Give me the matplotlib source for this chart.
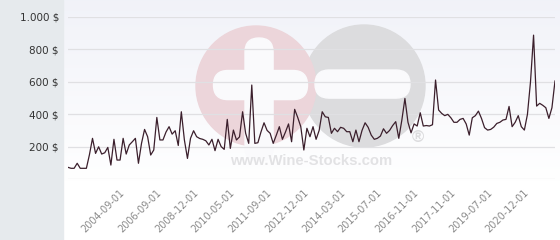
import numpy as np
import matplotlib
matplotlib.use("Agg")
import matplotlib.pyplot as plt
from matplotlib.patches import Circle, FancyBboxPatch, Rectangle

# monthly prices (160 points)
prices = [
    72, 66, 66, 97, 66, 66, 66, 150, 251, 158,
    199, 154, 162, 195, 86, 245, 117, 117, 251, 154,
    210, 230, 251, 97, 220, 306, 261, 148, 179, 380,
    241, 241, 290, 323, 277, 298, 207, 415, 241, 127,
    251, 298, 261, 250, 245, 236, 210, 245, 175, 245,
    200, 183, 368, 189, 302, 241, 260, 415, 282, 220,
    580, 220, 224, 290, 347, 300, 282, 220, 270, 323,
    245, 290, 340, 230, 430, 380, 323, 179, 313, 261,
    323, 245, 300, 415, 384, 380, 282, 313, 292, 319,
    313, 292, 292, 230, 302, 230, 300, 347, 319, 271,
    245, 251, 265, 310, 282, 300, 330, 354, 251, 364,
    497, 350, 285, 340, 327, 409, 327, 330, 327, 335,
    611, 426, 405, 391, 399, 378, 350, 350, 368, 374,
    340, 271, 378, 391, 419, 374, 317, 302, 306, 320,
    343, 350, 364, 368, 448, 323, 350, 391, 323, 302,
    399, 600, 888, 450, 467, 455, 440, 374, 440, 605,
]

tick_labels = ['2004-09-01', '2006-09-01', '2008-12-01', '2010-05-01',
               '2011-09-01', '2012-12-01', '2014-03-01', '2015-07-01',
               '2016-11-01', '2017-11-01', '2019-07-01', '2020-12-01']
first_tick = 18
tick_step = 12

y_ticks = [0, 200, 400, 600, 800, 1000]
y_labels = ['', '200 $', '400 $', '600 $', '800 $', '1.000 $']

W, H = 560, 240
fig = plt.figure(figsize=(W / 100, H / 100), dpi=100)

# background layer in pixel coordinates
bg = fig.add_axes([0, 0, 1, 1], zorder=0)
bg.set_xlim(0, W)
bg.set_ylim(H, 0)
bg.axis('off')

grad = np.linspace(0, 1, 200).reshape(-1, 1)
top = np.array([0.945, 0.95, 0.975])
bot = np.array([1.0, 1.0, 1.0])
img = top + (bot - top) * np.clip(grad * 1.1, 0, 1)[:, :, None]
img = np.repeat(img, 2, axis=1)
bg.imshow(img, extent=[63, W, 200, 0], aspect='auto', zorder=0)
bg.add_patch(Rectangle((200, 200), W, 40, color='white', zorder=0))
bg.add_patch(Rectangle((0, 0), 63, H, color='#e6eaed', zorder=1))

# watermark logo
bg.add_patch(Circle((364, 86), 61, color='#dcdcde', zorder=2))
bg.add_patch(Circle((256, 86), 60, color='#ecd5da', zorder=3))
bg.add_patch(FancyBboxPatch((259, 52), 0.1, 95, boxstyle='round,pad=14',
                            color='#fafafc', zorder=4))
bg.add_patch(FancyBboxPatch((228, 85), 65, 0.1, boxstyle='round,pad=14.5',
                            color='#fafafc', zorder=4))
bg.add_patch(FancyBboxPatch((329, 84), 67, 0.1, boxstyle='round,pad=14',
                            color='#fafafc', zorder=4))
bg.text(311, 161, 'www.Wine-Stocks.com', fontsize=10.7, fontweight='bold',
        family='Liberation Sans', color='#e2e2e4', ha='center', va='center',
        zorder=5)
bg.text(418, 138, '®', fontsize=12, fontweight='bold', family='Liberation Sans',
        color='#dcdcde', ha='center', va='center', zorder=5)

# main chart
ax = fig.add_axes([68 / W, 1 - 179 / H, 487 / W, 162 / H], zorder=1)
ax.patch.set_alpha(0)
x = np.arange(len(prices))
ax.plot(x, prices, color='#3b1f2c', lw=0.9, zorder=3)

ax.set_xlim(0, len(prices) - 1)
ax.set_ylim(0, 1000)
ax.set_yticks(y_ticks)
ax.set_yticklabels(y_labels, fontsize=7.5, color='#333333')
ax.grid(axis='y', color='#e0e0e3', lw=0.9)
ax.set_axisbelow(True)

ticks = [first_tick + tick_step * i for i in range(len(tick_labels))]
ax.set_xticks(ticks)
ax.set_xticklabels(tick_labels, rotation=45, ha='right', va='center',
                   rotation_mode='anchor', fontsize=7, color='#8a8a8a')
ax.tick_params(axis='x', length=0, pad=9)
ax.tick_params(axis='y', length=0, pad=6.5)
for s in ax.spines.values():
    s.set_visible(False)

fig.savefig('out.png', dpi=100)
